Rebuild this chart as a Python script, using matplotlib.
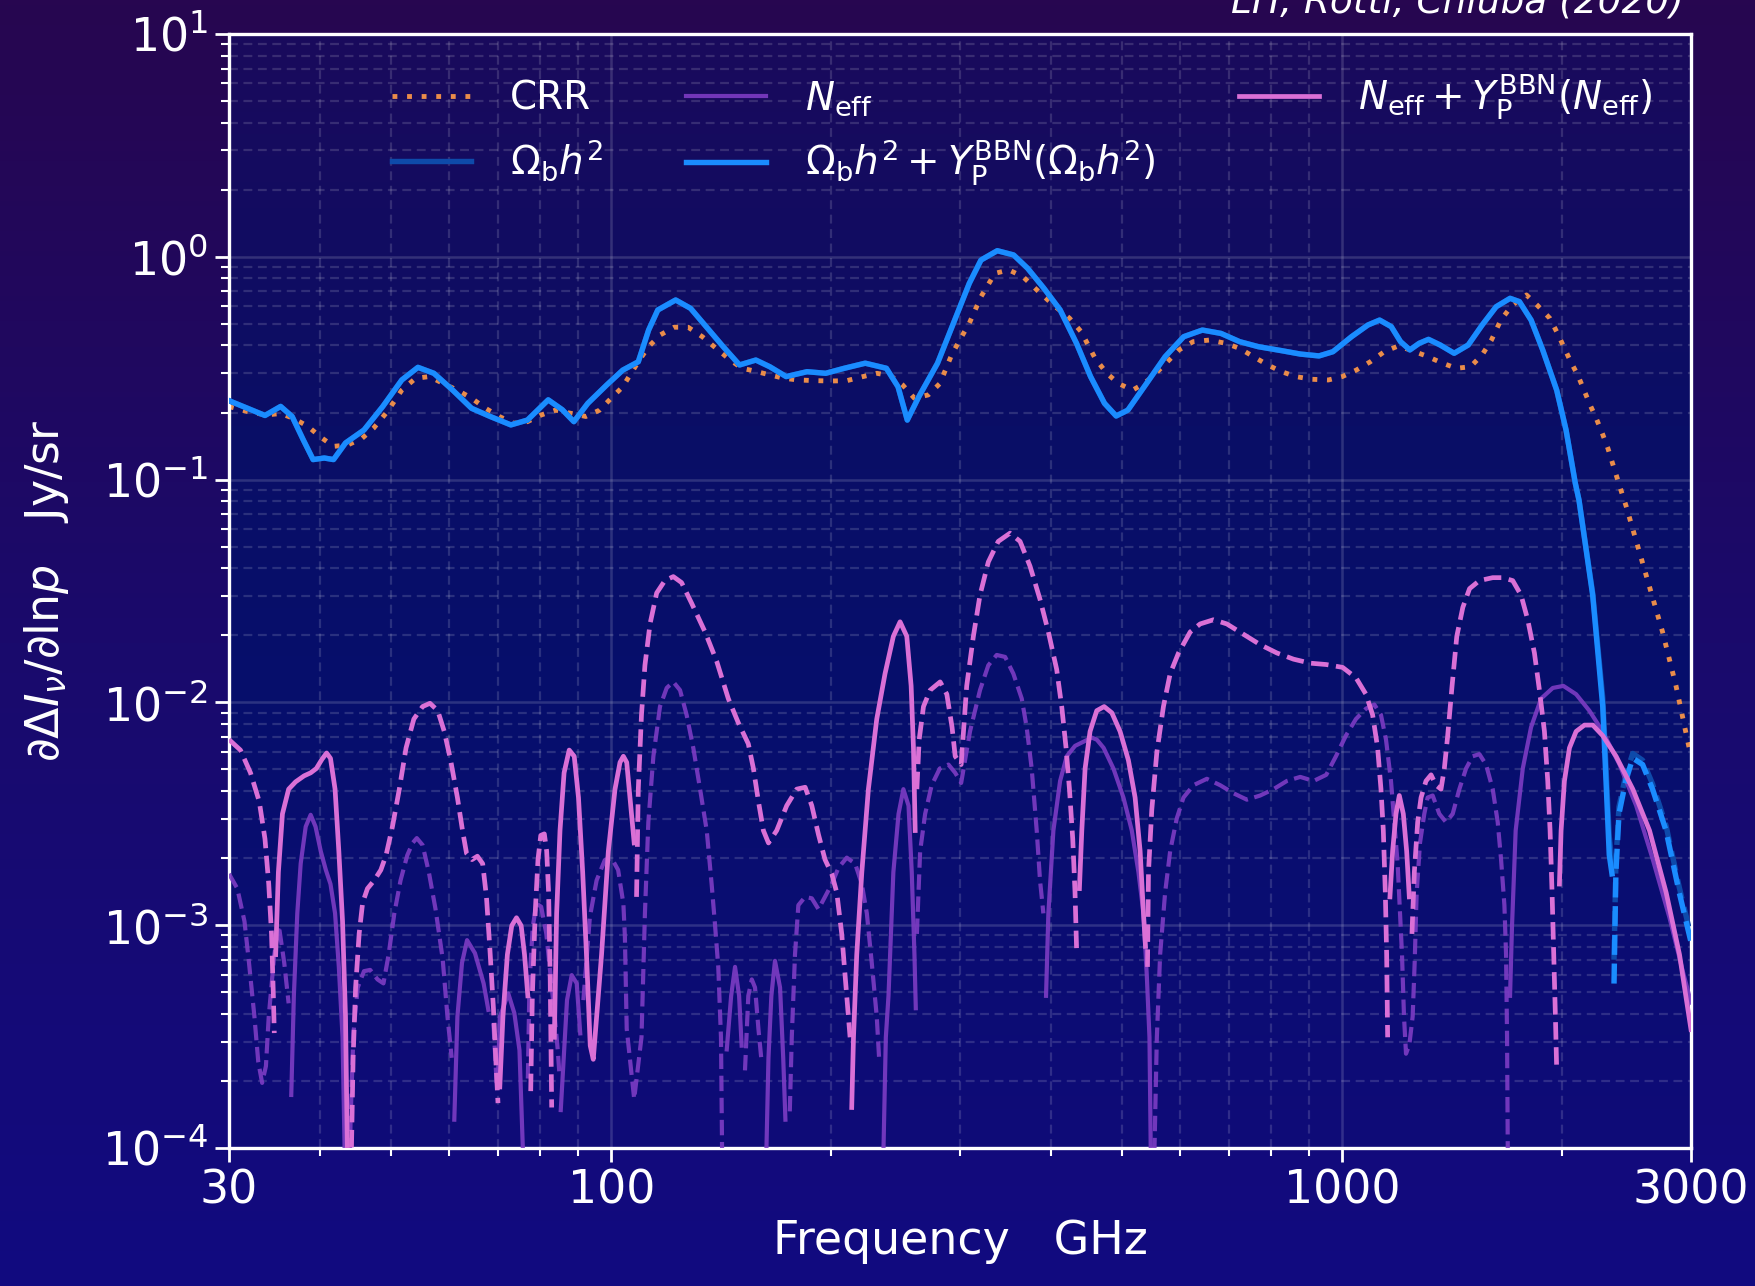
import numpy as np
import matplotlib
matplotlib.use("Agg")
import matplotlib.pyplot as plt
from matplotlib.colors import LinearSegmentedColormap
from matplotlib.ticker import FixedLocator, FixedFormatter, LogLocator, NullFormatter

# ---------------------------------------------------------------------------
# Data: derivative of the spectral distortion w.r.t. ln(parameter), Jy/sr.
# Signed values: positive parts are drawn solid, negative parts dashed (|value|).
# ---------------------------------------------------------------------------

crr_freq = [30, 31.8, 33.7, 35.3, 36.8, 38.5, 39.95, 41.7, 43.6, 45.6, 47.3, 49.4, 51.7,
            54.0, 56.4, 58.9, 61.6, 64.4, 67.3, 70.3, 73.5, 76.8, 80.2, 83.9, 88.3, 92.3,
            96.4, 100.0, 103.7, 106.1, 109.3, 112.5, 116.7, 121.9, 127.4, 133.2, 139.2,
            145.5, 150.9, 156.5, 164.8, 172.2, 180.0, 190.9, 199.5, 210.0, 221.0, 230.9,
            241.3, 250.4, 259.8, 271.5, 281.6, 292.2, 300, 308.9, 320.5, 334.9, 350.0,
            365.8, 382.2, 402.4, 423.6, 439.4, 459.2, 476.4, 494.2, 516.6, 535.9, 555.9,
            576.6, 598.1, 625.2, 658.1, 692.8, 723.9, 756.7, 790.7, 826.4, 863.6, 909.1,
            957.1, 1000.2, 1045.1, 1092.5, 1141.6, 1193.0, 1246.6, 1302.8, 1371.5, 1433.2,
            1497.7, 1553.9, 1600.0, 1647.9, 1709.3, 1786.6, 1853.3, 1922.9, 1965.2, 2009.3,
            2053.9, 2099.5, 2146.2, 2178.1, 2226.2, 2269.2, 2309.4, 2343.7, 2378.7, 2413.5,
            2445, 2603, 2743, 2861, 2984, 3000]
crr_val = [0.213, 0.202, 0.195, 0.198, 0.188, 0.173, 0.156, 0.141, 0.143, 0.153, 0.170, 0.202,
           0.252, 0.285, 0.290, 0.270, 0.252, 0.232, 0.209, 0.192, 0.179, 0.182, 0.195, 0.205,
           0.198, 0.192, 0.205, 0.232, 0.261, 0.295, 0.344, 0.395, 0.446, 0.483, 0.483, 0.438,
           0.388, 0.344, 0.316, 0.308, 0.295, 0.285, 0.280, 0.278, 0.277, 0.278, 0.290, 0.300,
           0.292, 0.266, 0.232, 0.240, 0.270, 0.363, 0.425, 0.503, 0.662, 0.843, 0.873, 0.814,
           0.710, 0.608, 0.530, 0.461, 0.350, 0.300, 0.270, 0.252, 0.270, 0.300, 0.338, 0.382,
           0.416, 0.423, 0.409, 0.388, 0.356, 0.327, 0.305, 0.290, 0.282, 0.280, 0.290, 0.310,
           0.338, 0.375, 0.398, 0.379, 0.359, 0.333, 0.316, 0.321, 0.363, 0.423, 0.520, 0.608,
           0.674, 0.601, 0.530, 0.461, 0.395, 0.338, 0.295, 0.248, 0.220, 0.188, 0.161, 0.138,
           0.118, 0.101, 0.0868, 0.0762, 0.0375, 0.0207, 0.0119, 0.0062, 0.0058]

ob_freq = [30, 31.8, 33.6, 35.3, 36.6, 37.9, 39.1, 40.5, 41.7, 43.3, 45.9, 48.7, 51.7, 54.4,
           57.2, 60.7, 64.4, 68.3, 72.9, 76.8, 82.0, 85.7, 88.9, 92.9, 98.6, 103.7, 108.9,
           112.5, 115.8, 122.5, 128.4, 136.1, 142.3, 149.8, 157.7, 164.8, 173.5, 185.3, 196.5,
           208.4, 222.6, 237.9, 246.8, 254.1, 263.6, 279.5, 300, 308.9, 320.5, 337.4, 355.2,
           371.2, 390.8, 411.3, 433.0, 452.6, 472.9, 490.6, 509.0, 539.8, 572.4, 607.0, 643.7,
           682.6, 723.9, 767.9, 826.4, 876.4, 929.4, 971.1, 1029.8, 1084.2, 1124.9, 1166.9,
           1201.7, 1237.5, 1274.3, 1312.3, 1361.3, 1422.7, 1487.2, 1553.9, 1624.0, 1696.8,
           1747.5, 1813.0, 1880.4, 1965.2, 2023.9, 2083.9, 2108,
           2201, 2272, 2319, 2339, 2354, 2368, 2391, 2442, 2497, 2576, 2658, 2773, 2891, 3000]
# shared part of both baryon-density curves (up to 2108 GHz)
ob_common = [0.226, 0.209, 0.194, 0.213, 0.192, 0.151, 0.123, 0.125, 0.123, 0.146, 0.167,
             0.213, 0.280, 0.319, 0.300, 0.252, 0.209, 0.192, 0.176, 0.185, 0.228, 0.206,
             0.182, 0.220, 0.266, 0.310, 0.338, 0.469, 0.577, 0.640, 0.587, 0.469, 0.395,
             0.327, 0.344, 0.321, 0.290, 0.305, 0.300, 0.316, 0.333, 0.316, 0.261, 0.185,
             0.236, 0.333, 0.597, 0.760, 0.967, 1.065, 1.019, 0.888, 0.722, 0.577, 0.409,
             0.290, 0.220, 0.193, 0.205, 0.270, 0.356, 0.438, 0.469, 0.453, 0.416, 0.395,
             0.379, 0.366, 0.359, 0.375, 0.438, 0.494, 0.520, 0.486, 0.416, 0.382, 0.409,
             0.426, 0.402, 0.369, 0.402, 0.494, 0.597, 0.651, 0.629, 0.520, 0.382, 0.252,
             0.167, 0.0962, 0.081]
ob_tail = [0.0310, 0.0105, 0.0025, 0.0019, -0.0007, -0.0019, -0.0034, -0.0047, -0.0059,
           -0.0055, -0.0043, -0.0028, -0.00148, -0.00089]
ob_yp_tail = [0.0303, 0.00958, 0.00207, 0.0017, -0.000547, -0.00173, -0.00316, -0.00443,
              -0.00562, -0.00526, -0.00408, -0.00266, -0.0014, -0.00084]
ob_val = ob_common + ob_tail
ob_yp_val = ob_common + ob_yp_tail

neff_freq = [30, 30.8, 31.5, 31.95, 32.5, 32.9, 33.3, 33.7, 34.0, 34.6, 35.1, 35.7, 36.2,
             36.5, 36.8, 37.2, 37.6, 38.2, 38.8, 39.4, 40.05, 40.7, 41.3, 41.9, 42.4, 42.9, 43.3,
             43.8, 44.0, 44.4, 45.0, 45.9, 46.8, 47.9, 48.8, 49.6, 50.5, 51.5, 52.6, 53.5, 54.2,
             55.2, 56.3, 57.5, 58.8, 59.7, 60.5,
             61.0, 61.6, 62.5, 63.5, 65.1, 66.9, 67.9,
             69.0, 69.7,
             70.0, 70.4, 72.3, 73.7, 74.9, 76.1,
             76.9, 77.3, 78.1, 79.0, 80.2, 81.5, 82.8, 83.7, 84.5, 85.0,
             85.3, 87.0, 88.3, 89.7, 90.7,
             91.6, 93.5, 95.5, 98.0, 100.1, 102.2, 103.9, 104.4, 105.0, 107.5, 110.0, 111.2,
             112.4, 114.2, 116.6, 119.1, 121.6, 124.2, 126.8, 129.5, 132.3, 135.1, 137.2, 138.7,
             140.1, 141.3, 142.0,
             143.9, 145.9, 147.7, 149.6, 150.8,
             152.4, 154.0, 155.7, 157.3, 159.0, 160.6,
             162.5, 164.1, 165.6, 167.5, 170.2, 171.9, 173.1,
             175.5, 176.6, 178.4, 180.3, 184.2, 188.1, 192.1, 196.1, 200.3, 204.6, 210.0, 215.6,
             220.2, 223.7, 227.2, 230.8, 232.5,
             235.0, 237.5, 239.5, 243.2, 247.2, 251.0, 255.1, 257.7, 259.9, 261.0,
             261.9, 264.6, 268.8, 274.4, 281.5, 289.3, 295.5, 301.1, 309.6, 319.5, 328.0, 336.8,
             345.8, 354.9, 364.4, 370.1, 376.0, 382.0, 386.0, 390.1,
             393.4, 396.3, 402.6, 411.2, 419.9, 431.0, 442.5, 454.4, 461.7, 471.6, 486.4, 502.0,
             515.4, 526.3, 534.7, 540.3, 544.9, 548.0,
             551.8, 557.7, 563.5, 572.4, 581.6, 593.9, 606.5, 625.9, 652.8, 680.8, 710.0, 740.5,
             772.3, 805.4, 840.0, 876.1, 913.7, 950.9, 980.4, 1011.8, 1044.1, 1077.6, 1106.4,
             1129.8, 1147.8, 1166.0, 1178.3, 1190.7, 1199.6, 1207.2, 1214.8, 1222.5, 1235.3,
             1248.4, 1256.3, 1264.3, 1277.6, 1295.0, 1308.6, 1329.6, 1357.8, 1386.7, 1416.2,
             1446.2, 1477.0, 1508.3, 1540.3, 1573.0, 1606.5, 1632.0, 1649.3, 1666.7, 1675.4,
             1680.7, 1686.1,
             1696.6, 1707.2, 1726.9, 1766.0, 1812.6, 1870.8, 1941.0, 2006.9, 2089.1, 2178.1,
             2271.1, 2394.8, 2524.1, 2660.1, 2803.6, 2923.2, 3000]
neff_val = [-0.00170, -0.00146, -0.00104, -0.000678, -0.000389, -0.000243, -0.000196, -0.000233,
            -0.000389, -0.000738, -0.000995, -0.000678, -0.000446,
            0.000173, 0.000482, 0.00113, 0.00189, 0.00277, 0.00313, 0.00277, 0.00215, 0.00177,
            0.00153, 0.00113, 0.000650, 0.000314, 0.00006,
            -0.00006, -0.000134, -0.000328, -0.000525, -0.000622, -0.00063, -0.000571, -0.000548,
            -0.000738, -0.00113, -0.00159, -0.00206, -0.00234, -0.00246, -0.00229, -0.00173,
            -0.00118, -0.000708, -0.000389, -0.000254,
            0.000134, 0.000389, 0.000678, 0.000857, 0.000749, 0.000548, 0.000417,
            -0.000362, -0.000195,
            0.000205, 0.000387, 0.000494, 0.000403, 0.000275, 0.00006,
            -0.000205, -0.000548, -0.000983, -0.00125, -0.00121, -0.000918, -0.000548,
            -0.000389, -0.000275, -0.000208,
            0.000148, 0.000461, 0.000597, 0.000548, 0.000327,
            -0.000461, -0.00109, -0.00159, -0.00196, -0.00200, -0.00177, -0.00125, -0.000887,
            -0.000343, -0.000166, -0.000314, -0.00113, -0.00290, -0.00573, -0.00958, -0.01161,
            -0.01236, -0.01135, -0.00879, -0.00625, -0.00408, -0.00266, -0.00153, -0.000995,
            -0.00065, -0.000314, -0.00006,
            0.000277, 0.000482, 0.00065, 0.000482, 0.000288,
            -0.000223, -0.000482, -0.000571, -0.000525, -0.000342, -0.000243,
            0.00006, 0.000254, 0.000482, 0.000692, 0.000525, 0.000254, 0.000134,
            -0.000146, -0.000314, -0.000738, -0.00123, -0.00134, -0.00132, -0.00118, -0.00134,
            -0.00153, -0.00181, -0.00201, -0.00189, -0.00153, -0.00113, -0.000678, -0.000389,
            -0.000254,
            0.00006, 0.000314, 0.000482, 0.00173, 0.00316, 0.00408, 0.00344, 0.00173, 0.000738,
            0.000424,
            -0.000914, -0.00215, -0.00316, -0.00425, -0.00505, -0.00526, -0.00483, -0.00435,
            -0.00741, -0.01135, -0.01467, -0.01633, -0.01600, -0.01346, -0.0104, -0.00773,
            -0.00505, -0.00266, -0.00159, -0.00113,
            0.000482, 0.00113, 0.00266, 0.00444, 0.00573, 0.00638, 0.00666, 0.00695, 0.00680,
            0.00625, 0.00505, 0.00374, 0.00266, 0.00173, 0.00113, 0.000597, 0.000314, 0.00006,
            -0.00006, -0.000314, -0.000738, -0.00140, -0.00215, -0.00302, -0.00374, -0.00425,
            -0.00454, -0.00425, -0.00391, -0.00366, -0.00382, -0.00408, -0.00444, -0.00463,
            -0.00444, -0.00473, -0.00573, -0.0071, -0.00842, -0.00937, -0.00978, -0.00879,
            -0.00681, -0.00444, -0.00290, -0.00189, -0.00113, -0.000738, -0.000389, -0.000265,
            -0.00029, -0.000389, -0.000678, -0.00140, -0.00234, -0.00316, -0.00374, -0.00382,
            -0.00316, -0.00290, -0.00316, -0.00408, -0.00505, -0.00573, -0.00586, -0.00526,
            -0.00408, -0.0029, -0.00197, -0.00123, -0.000738, -0.000314, -0.00006,
            0.000482, 0.000995, 0.00266, 0.00505, 0.00773, 0.0104, 0.01161, 0.01186, 0.01088,
            0.00918, 0.00741, 0.00526, 0.00344, 0.00197, 0.00108, 0.000622, 0.00045]

neff_yp_freq = [30, 31.1, 32.1, 33.0, 33.6, 34.0, 34.3, 34.5, 34.6,
                34.75, 35.05, 35.5, 36.2, 37.0, 38.0, 38.8, 39.5, 40.2, 40.8, 41.3, 41.9, 42.4,
                42.9, 43.3, 43.65,
                44.0, 44.35, 44.7, 45.2, 45.7, 46.4, 47.4, 48.4, 49.2, 50.2, 51.3, 52.4, 53.7,
                55.2, 56.5, 57.9, 59.1, 60.3, 61.6, 62.6, 63.4, 64.5, 65.6, 66.7, 67.5, 68.2,
                69.0, 69.5, 70.0,
                70.4, 71.1, 72.1, 73.1, 74.2, 75.3, 76.1, 76.9,
                77.6, 78.0, 78.7, 79.4, 80.1, 81.0, 81.6, 82.1, 82.5, 82.9,
                83.6, 84.2, 85.1, 86.2, 87.6, 89.0, 90.2, 91.4, 92.5, 93.6, 94.5, 97.0, 99.1,
                101.2, 102.8, 103.9, 105.0, 106.1, 107.5,
                108.3, 108.9, 110.0, 111.2, 113.0, 115.4, 118.4, 121.6, 124.8, 128.8, 134.4,
                139.4, 144.6, 149.3, 154.0, 156.5, 159.0, 161.5, 164.1, 168.4, 173.8, 179.4,
                184.2, 188.1, 192.1, 196.1, 200.3, 203.5, 206.7, 210.0, 212.2,
                213.3, 214.5, 216.7, 220.2, 224.8, 230.8, 236.9, 243.2, 248.4, 253.7, 257.2,
                259.1, 260.5,
                261.9, 263.8, 267.4, 273.1, 281.8, 287.8, 292.6, 295.5, 301.1, 306.4, 312.9,
                319.5, 328.0, 338.4, 351.2, 362.5, 374.0, 386.0, 396.3, 406.8, 413.3, 419.0,
                423.5, 427.9, 431.0, 433.3,
                437.0, 440.3, 444.9, 451.9, 461.5, 472.4, 484.0, 496.7, 509.9, 520.8, 529.1,
                534.7, 538.1,
                541.5, 543.2, 548.9, 557.7, 569.4, 581.6, 597.1, 619.4, 639.2, 666.7, 695.3,
                732.8, 772.3, 813.9, 857.9, 904.1, 950.9, 1001.2, 1044.1, 1077.6, 1100.5,
                1118.0, 1129.8, 1138.2, 1145.4, 1150.2, 1153.8,
                1162.2, 1172.1, 1184.5, 1197.0, 1212.2, 1225.0, 1235.3,
                1245.6, 1255.0, 1268.3, 1281.8, 1302.0, 1322.9, 1343.7, 1365.0, 1379.4, 1394.1,
                1413.4, 1434.6, 1462.1, 1493.4, 1540.3, 1606.5, 1657.9, 1711.0, 1756.5, 1793.8,
                1832.0, 1861.1, 1890.7, 1910.5, 1924.6, 1936.7, 1946.9, 1957.2, 1965.5,
                1982.1, 1992.5, 2013.6, 2045.8, 2089.1, 2144.7, 2201.7, 2271.1, 2369.4, 2497.6,
                2632.6, 2774.3, 2893.3, 3000]
neff_yp_val = [-0.00681, -0.00611, -0.00483, -0.00359, -0.00244, -0.00153, -0.000914,
               -0.000482, -0.000328,
               0.000738, 0.00173, 0.00316, 0.00408, 0.00440, 0.00468, 0.00483, 0.00505, 0.00555,
               0.00593, 0.00561, 0.00408, 0.00215, 0.00104, 0.000389, 0.00006,
               -0.00006, -0.000254, -0.000525, -0.000914, -0.00126, -0.00146, -0.00159, -0.00177,
               -0.00206, -0.00277, -0.00408, -0.00625, -0.00842, -0.00958, -0.00991, -0.00918,
               -0.00741, -0.00550, -0.00374, -0.00266, -0.00210, -0.00197, -0.00204, -0.00189,
               -0.00134, -0.000804, -0.000424, -0.000254, -0.000159,
               0.000188, 0.000389, 0.000738, 0.000995, 0.00108, 0.000995, 0.000738, 0.000482,
               -0.000180, -0.000482, -0.00113, -0.00197, -0.00253, -0.00257, -0.00215, -0.00140,
               -0.000597, -0.000152,
               0.000314, 0.00113, 0.00266, 0.00483, 0.00611, 0.00573, 0.00374, 0.00173,
               0.000738, 0.000288, 0.00025, 0.000738, 0.00215, 0.00408, 0.00538, 0.00573,
               0.00538, 0.00374, 0.00234,
               -0.00134, -0.00408, -0.00879, -0.01467, -0.0225, -0.0310, -0.0352, -0.0367,
               -0.0345, -0.0279, -0.0207, -0.0153, -0.0104, -0.00807, -0.00652, -0.00505,
               -0.00359, -0.00266, -0.00234, -0.00266, -0.00344, -0.00408, -0.00416, -0.00344,
               -0.00255, -0.00197, -0.00170, -0.00140, -0.000914, -0.000482, -0.000314,
               0.000152, 0.000314, 0.000738, 0.00173, 0.00408, 0.00842, 0.01346, 0.0198, 0.0230,
               0.0198, 0.01186, 0.00625, 0.00266,
               -0.00408, -0.00681, -0.00958, -0.01135, -0.01236, -0.01088, -0.00773, -0.00573,
               -0.00526, -0.01186, -0.0198, -0.0303, -0.0427, -0.0528, -0.0575, -0.0528,
               -0.0409, -0.0290, -0.0207, -0.01406, -0.00958, -0.00625, -0.00408, -0.00244,
               -0.00140, -0.000745,
               0.00146, 0.00266, 0.00505, 0.00741, 0.00918, 0.00958, 0.00898, 0.00741, 0.00550,
               0.00374, 0.00215, 0.00113, 0.000804,
               -0.000650, -0.00173, -0.00330, -0.00598, -0.00958, -0.01346, -0.01667, -0.0207,
               -0.0225, -0.0235, -0.0225, -0.0202, -0.01816, -0.01667, -0.01563, -0.01500,
               -0.01479, -0.01436, -0.01291, -0.01088, -0.00879, -0.00625, -0.00408, -0.00266,
               -0.00140, -0.000738, -0.000314,
               0.00134, 0.00215, 0.00316, 0.00382, 0.00316, 0.00215, 0.00134,
               -0.000914, -0.00173, -0.00290, -0.00374, -0.00444, -0.00473, -0.00425, -0.00408,
               -0.00505, -0.00710, -0.01186, -0.0198, -0.0267, -0.0324, -0.0352, -0.0363,
               -0.0363, -0.0352, -0.0303, -0.0235, -0.01667, -0.01135, -0.00741, -0.00444,
               -0.00266, -0.00140, -0.000738, -0.000389, -0.000219,
               0.00153, 0.00266, 0.00444, 0.00625, 0.00741, 0.00791, 0.00791, 0.00710, 0.00573,
               0.00408, 0.00266, 0.00140, 0.000738, 0.00034]

x_ticks = [30, 100, 1000, 3000]
x_tick_labels = ["30", "100", "1000", "3000"]
x_minor_ticks = [40, 50, 60, 70, 80, 90, 200, 300, 400, 500, 600, 700, 800, 900, 2000]

# ---------------------------------------------------------------------------
# Styling
# ---------------------------------------------------------------------------
plt.rcParams["font.family"] = ["DejaVu Sans"]
plt.rcParams["mathtext.fontset"] = "dejavusans"
plt.rcParams["text.color"] = "white"
plt.rcParams["axes.labelcolor"] = "white"

W, H = 1756, 1286
fig = plt.figure(figsize=(W / 100, H / 100), dpi=100)

# figure background: vertical purple -> indigo gradient
bg = fig.add_axes([0, 0, 1, 1], zorder=-10)
bg_cmap = LinearSegmentedColormap.from_list(
    "bg", [(0.0, "#270650"), (0.5, "#1a0a6c"), (1.0, "#110a80")])
bg.imshow(np.linspace(0, 1, 256)[:, None], aspect="auto", cmap=bg_cmap,
          extent=[0, 1, 0, 1], origin="upper")
bg.set_axis_off()

ax_pos = [229 / W, 1 - 1148 / H, 1462 / W, 1114 / H]

# plot area background: deeper navy gradient
face = fig.add_axes(ax_pos, zorder=-5)
face_cmap = LinearSegmentedColormap.from_list(
    "face", [(0.0, "#1a0a5c"), (0.35, "#0a0e66"), (0.6, "#060f6c"), (1.0, "#0f0b78")])
face.imshow(np.linspace(0, 1, 256)[:, None], aspect="auto", cmap=face_cmap,
            extent=[0, 1, 0, 1], origin="upper")
face.set_axis_off()

ax = fig.add_axes(ax_pos)
ax.set_facecolor("none")


def plot_signed(ax, f, v, color, lw, label, alpha=1.0, zorder=2):
    f = np.asarray(f, dtype=float)
    v = np.asarray(v, dtype=float)
    pos = np.where(v > 0, v, np.nan)
    neg = np.where(v < 0, -v, np.nan)
    ax.plot(f, pos, color=color, lw=lw, ls="-", label=label, alpha=alpha, zorder=zorder,
            solid_joinstyle="round")
    ax.plot(f, neg, color=color, lw=lw, ls="--", alpha=alpha, zorder=zorder)


c_crr = "#ea8c4a"
c_ob = "#0e4aaa"
c_neff = "#7d3cc4"
c_ob_yp = "#1a8cff"
c_neff_yp = "#da70d6"

ax.plot(crr_freq, crr_val, color=c_crr, lw=3.5, ls=(0, (1, 2.0)), label="CRR", zorder=2)
plot_signed(ax, ob_freq, ob_val, c_ob, 3.9, r"$\Omega_{\rm b}h^2$", zorder=3)
plot_signed(ax, neff_freq, neff_val, c_neff, 3.0, r"$N_{\rm eff}$", alpha=0.9, zorder=3)
plot_signed(ax, ob_freq, ob_yp_val, c_ob_yp, 3.9,
            r"$\Omega_{\rm b}h^2+Y_{\rm P}^{\rm BBN}(\Omega_{\rm b}h^2)$", zorder=4)
plot_signed(ax, neff_yp_freq, neff_yp_val, c_neff_yp, 3.4,
            r"$N_{\rm eff}+Y_{\rm P}^{\rm BBN}(N_{\rm eff})$", zorder=5)

ax.set_xscale("log")
ax.set_yscale("log")
ax.set_xlim(30, 3000)
ax.set_ylim(1e-4, 10)

ax.xaxis.set_major_locator(FixedLocator(x_ticks))
ax.xaxis.set_major_formatter(FixedFormatter(x_tick_labels))
ax.xaxis.set_minor_locator(FixedLocator(x_minor_ticks))
ax.xaxis.set_minor_formatter(NullFormatter())
ax.yaxis.set_major_locator(LogLocator(base=10, numticks=10))
ax.yaxis.set_minor_locator(LogLocator(base=10, subs=np.arange(2, 10), numticks=20))
ax.yaxis.set_minor_formatter(NullFormatter())

ax.tick_params(which="major", direction="out", length=10, width=2.0, colors="white",
               labelsize=33, pad=5)
ax.tick_params(which="minor", direction="out", length=6, width=1.5, colors="white")
for sp in ax.spines.values():
    sp.set_color("white")
    sp.set_linewidth(2.4)

ax.grid(which="major", color="white", alpha=0.15, lw=1.8, ls="-")
ax.grid(which="minor", color="white", alpha=0.14, lw=1.6, ls=(0, (4, 2.5)))
ax.set_axisbelow(True)

ax.set_xlabel("Frequency   GHz", fontsize=33)
ax.set_ylabel(r"$\partial\Delta I_\nu/\partial{\rm ln}p$   Jy/sr", fontsize=33)
ax.yaxis.set_label_coords(-0.108, 0.5)

leg = ax.legend(ncol=3, loc="upper right", frameon=False, fontsize=28,
                handlelength=2.05, handletextpad=1.0, columnspacing=2.15,
                labelcolor="white", borderaxespad=0.6)

fig.text(1684 / W, 1 - 13 / H, "LH, Rotti, Chluba (2020)", ha="right", va="baseline",
         fontsize=27, style="italic", color="white")

fig.savefig("out.png", dpi=100)
